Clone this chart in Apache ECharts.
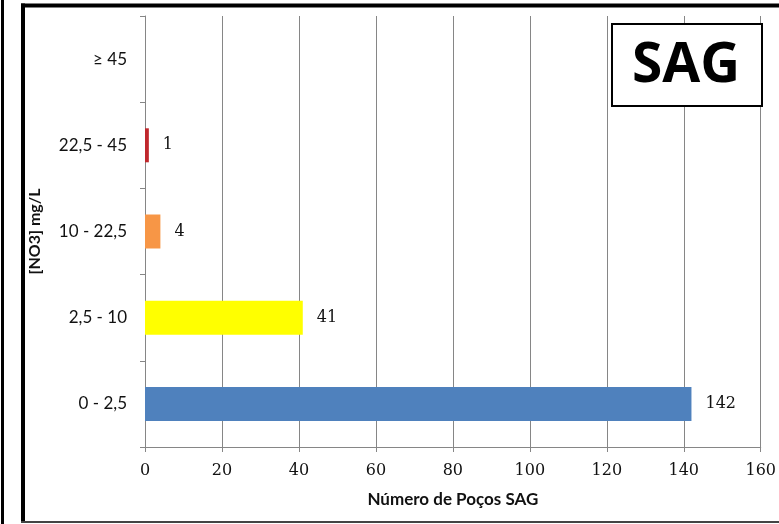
<!DOCTYPE html>
<html>
<head>
<meta charset="utf-8">
<script src="https://cdn.jsdelivr.net/npm/echarts@6/dist/echarts.min.js"></script>
<style>
html,body{margin:0;padding:0;background:#fff;}
#chart{width:779px;height:524px;}
</style>
</head>
<body>
<div id="chart"></div>
<script>
const categories = ["0 - 2,5", "2,5 - 10", "10 - 22,5", "22,5 - 45", "\u2265 45"];
const values = [142, 41, 4, 1, 0];
const barColors = ["#4F81BD", "#FFFF00", "#F79646", "#C0282D", "#8064A2"];
const xTicks = { min: 0, max: 160, interval: 20 };
const xName = "Número de Poços SAG";
const yName = "[NO3] mg/L";
const badge = "SAG";

const chart = echarts.init(document.getElementById('chart'), null, {renderer: 'canvas'});
chart.setOption({
  backgroundColor: '#fff',
  animation: false,
  grid: { left: 145, right: 15, top: 16, bottom: 77, containLabel: false },
  xAxis: {
    type: 'value', min: xTicks.min, max: xTicks.max, interval: xTicks.interval,
    name: xName, nameLocation: 'middle', nameGap: 44,
    nameTextStyle: { fontFamily: 'Lato', fontWeight: 'bold', fontSize: 17, color: '#111' },
    axisLine: { show: true, lineStyle: { color: '#868686', width: 1 } },
    axisTick: { show: true, length: 5, lineStyle: { color: '#868686' } },
    axisLabel: { margin: 16, fontFamily: 'DejaVu Serif', fontSize: 16, color: '#111' },
    splitLine: { show: true, lineStyle: { color: '#868686', width: 1 } }
  },
  yAxis: {
    type: 'category', data: categories,
    name: yName, nameLocation: 'middle', nameGap: 102, nameRotate: 90,
    nameTextStyle: { fontFamily: 'Lato', fontWeight: 'bold', fontSize: 16, color: '#111' },
    axisLine: { show: true, lineStyle: { color: '#868686', width: 1 } },
    axisTick: { show: true, length: 5, lineStyle: { color: '#868686' } },
    axisLabel: { margin: 18, fontFamily: 'Lato', fontSize: 17, color: '#111' },
    splitLine: { show: false }
  },
  series: [{
    type: 'bar',
    barWidth: 34,
    data: values.map((v, i) => ({ value: v, itemStyle: { color: barColors[i] } })),
    label: {
      show: true, position: 'right', distance: 14,
      fontFamily: 'DejaVu Serif', fontSize: 16, color: '#111',
      formatter: p => (p.value ? String(p.value) : '')
    }
  }],
  graphic: [
    { type: 'line', shape: { x1: 2.5, y1: 0, x2: 2.5, y2: 524 }, style: { stroke: '#000', lineWidth: 3 }, z: 100 },
    { type: 'line', shape: { x1: 23, y1: 3.5, x2: 23, y2: 523 }, style: { stroke: '#000', lineWidth: 4 }, z: 100 },
    { type: 'line', shape: { x1: 21, y1: 5.5, x2: 779, y2: 5.5 }, style: { stroke: '#000', lineWidth: 4 }, z: 100 },
    { type: 'line', shape: { x1: 21, y1: 522, x2: 779, y2: 522 }, style: { stroke: '#444', lineWidth: 2 }, z: 100 },
    { type: 'rect', shape: { x: 612, y: 24, width: 150, height: 82 }, style: { fill: '#fff', stroke: '#000', lineWidth: 2 }, z: 100 },
    { type: 'text', x: 686, y: 66, z: 101,
      style: { text: badge, fontFamily: 'Open Sans', fontWeight: 'bold', fontSize: 55, fill: '#000', align: 'center', verticalAlign: 'middle' } }
  ]
});
</script>
</body>
</html>
